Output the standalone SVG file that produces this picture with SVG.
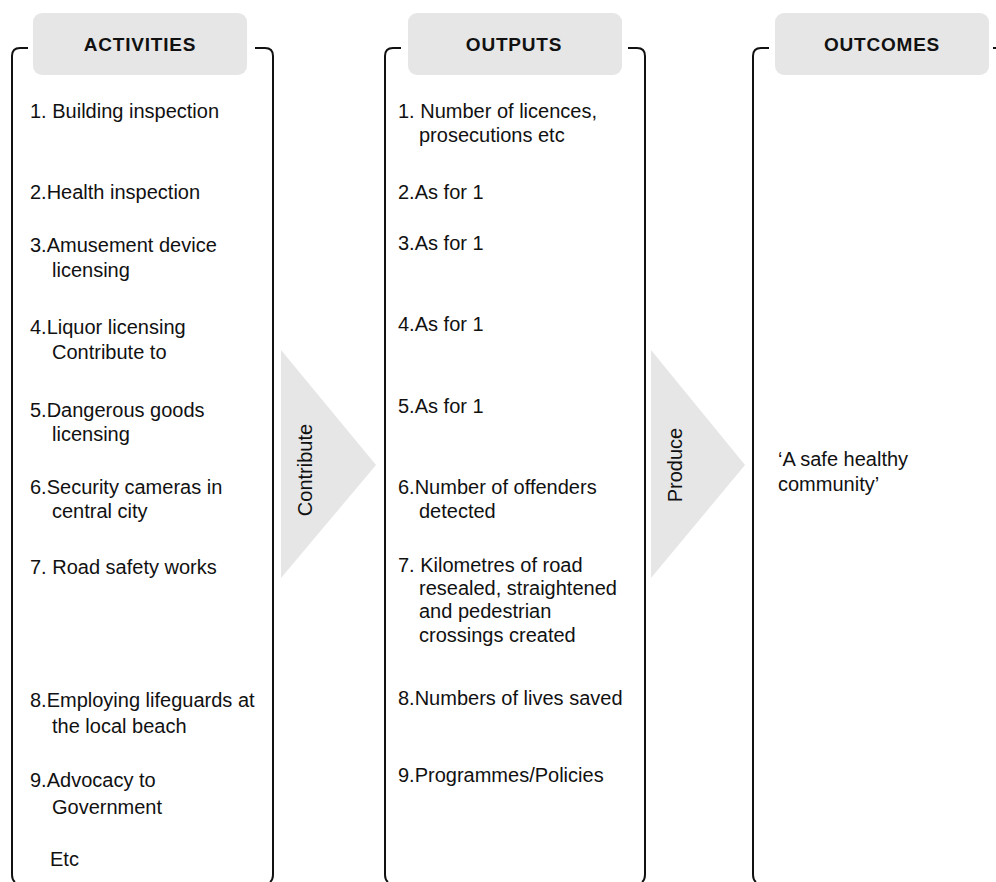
<svg xmlns="http://www.w3.org/2000/svg" width="996" height="882" viewBox="0 0 996 882">
<style>
.hdr{fill:#e6e6e6}
.ht{font-family:"Liberation Sans",Arial,sans-serif;font-weight:bold;font-size:19px;letter-spacing:0.8px;fill:#111;text-anchor:middle}
.br{fill:none;stroke:#111;stroke-width:2}
.tri{fill:#e6e6e6}
.t{font-family:"Liberation Sans",Arial,sans-serif;font-size:20px;fill:#111}
.rl{font-family:"Liberation Sans",Arial,sans-serif;font-size:20px;fill:#111;text-anchor:middle}
</style>
<rect width="996" height="882" fill="#ffffff"/>
<g id="connectors">
<polygon class="tri" points="281,350 376,465 281,578"/>
<text class="rl" transform="translate(312,470) rotate(-90)">Contribute</text>
<polygon class="tri" points="651,350 745,465 651,578"/>
<text class="rl" transform="translate(682,465) rotate(-90)">Produce</text>
</g>
<g id="activities">
<path class="br" d="M28,48 H20 Q12,48 12,56 V874 Q12,880 15,882"/>
<path class="br" d="M255,48 H265 Q273,48 273,56 V874 Q273,880 270,882"/>
<rect class="hdr" x="33" y="13" width="214" height="62" rx="9"/>
<text class="ht" x="140" y="51">ACTIVITIES</text>
<text class="t" x="30" y="118">1. Building inspection</text>
<text class="t" x="30" y="199">2.Health inspection</text>
<text class="t" x="30" y="252">3.Amusement device</text>
<text class="t" x="52" y="277">licensing</text>
<text class="t" x="30" y="334">4.Liquor licensing</text>
<text class="t" x="52" y="359">Contribute to</text>
<text class="t" x="30" y="417">5.Dangerous goods</text>
<text class="t" x="52" y="441">licensing</text>
<text class="t" x="30" y="494">6.Security cameras in</text>
<text class="t" x="52" y="518">central city</text>
<text class="t" x="30" y="574">7. Road safety works</text>
<text class="t" x="30" y="707">8.Employing lifeguards at</text>
<text class="t" x="52" y="733">the local beach</text>
<text class="t" x="30" y="787">9.Advocacy to</text>
<text class="t" x="52" y="814">Government</text>
<text class="t" x="50" y="866">Etc</text>
</g>
<g id="outputs">
<path class="br" d="M401,48 H393 Q385,48 385,56 V874 Q385,880 388,882"/>
<path class="br" d="M628,48 H637 Q645,48 645,56 V874 Q645,880 642,882"/>
<rect class="hdr" x="408" y="13" width="214" height="62" rx="9"/>
<text class="ht" x="514" y="51">OUTPUTS</text>
<text class="t" x="398" y="118">1. Number of licences,</text>
<text class="t" x="419" y="142">prosecutions etc</text>
<text class="t" x="398" y="199">2.As for 1</text>
<text class="t" x="398" y="250">3.As for 1</text>
<text class="t" x="398" y="331">4.As for 1</text>
<text class="t" x="398" y="413">5.As for 1</text>
<text class="t" x="398" y="494">6.Number of offenders</text>
<text class="t" x="419" y="518">detected</text>
<text class="t" x="398" y="572">7. Kilometres of road</text>
<text class="t" x="419" y="595">resealed, straightened</text>
<text class="t" x="419" y="618">and pedestrian</text>
<text class="t" x="419" y="642">crossings created</text>
<text class="t" x="398" y="705">8.Numbers of lives saved</text>
<text class="t" x="398" y="782">9.Programmes/Policies</text>
</g>
<g id="outcomes">
<path class="br" d="M769,48 H761 Q753,48 753,56 V874 Q753,880 756,882"/>
<path class="br" d="M993,48 H996"/>
<rect class="hdr" x="775" y="13" width="214" height="62" rx="9"/>
<text class="ht" x="882" y="51">OUTCOMES</text>
<text class="t" x="778" y="466">‘A safe healthy</text>
<text class="t" x="778" y="491">community’</text>
</g>
</svg>
